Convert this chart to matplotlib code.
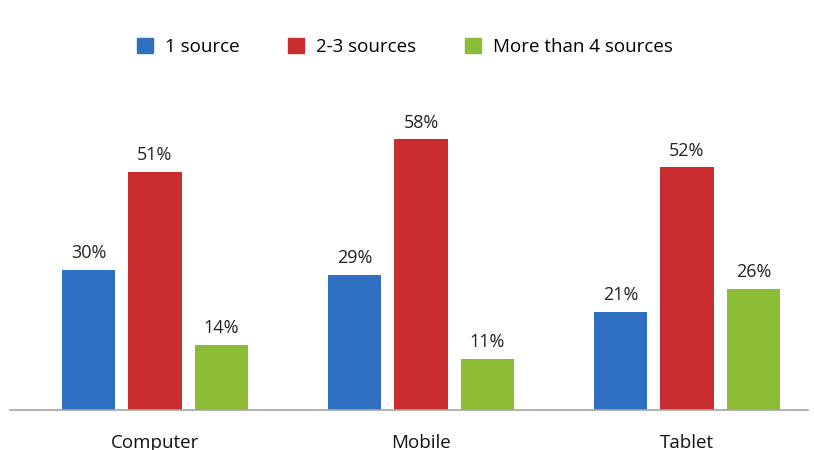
import numpy as np
import matplotlib.pyplot as plt
from matplotlib.patches import Patch

plt.rcParams['font.family'] = ['Open Sans', 'DejaVu Sans']

devices = ["Computer", "Mobile", "Tablet"]
series = ["1 source", "2-3 sources", "More than 4 sources"]
one_source = [30, 29, 21]
two_three = [51, 58, 52]
four_plus = [14, 11, 26]
colors = ["#2e6fc2", "#c92d2f", "#8cbb36"]

fig = plt.figure(figsize=(8.14, 4.5), dpi=100)
ax = fig.add_axes([0.0123, 0.0889, 0.9803, 0.689])

x = np.arange(len(devices))
width = 0.2
step = 0.25
for i, (vals, c) in enumerate(zip([one_source, two_three, four_plus], colors)):
    bars = ax.bar(x + (i - 1) * step, vals, width, color=c, edgecolor="none")
    for b, v in zip(bars, vals):
        ax.text(b.get_x() + b.get_width() / 2, v + 1.6, f"{v}%",
                ha="center", va="bottom", fontsize=13, color="#222222")

ax.set_xlim(-0.545, 2.455)
ax.set_ylim(0, 66.4)
ax.set_xticks(x)
ax.set_xticklabels(devices, fontsize=13.5, color="#111111")
ax.tick_params(axis="x", length=0, pad=17)
ax.set_yticks([])
for s in ["top", "right", "left"]:
    ax.spines[s].set_visible(False)
ax.spines["bottom"].set_color("#a6a6a6")
ax.spines["bottom"].set_linewidth(1.2)

handles = [Patch(color=c, label=s) for c, s in zip(colors, series)]
fig.legend(handles=handles, loc="center left", bbox_to_anchor=(0.168, 0.8956), ncol=3,
           frameon=False, fontsize=13.5, handlelength=0.85, handleheight=0.85,
           handletextpad=0.64, columnspacing=2.6, borderpad=0, borderaxespad=0)

fig.savefig("out.png", dpi=100)
